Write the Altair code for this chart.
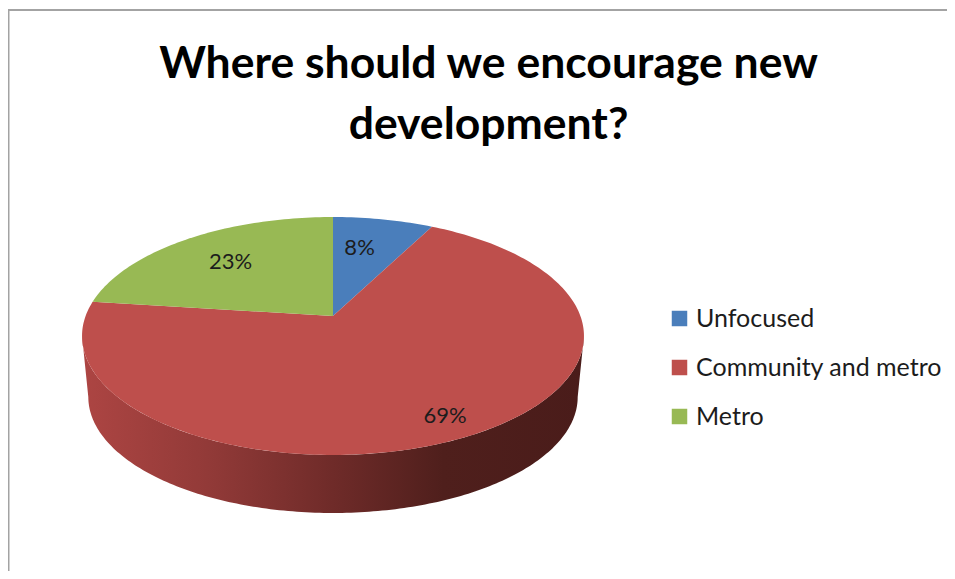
import math
import altair as alt
import pandas as pd

names = ["Unfocused", "Community and metro", "Metro"]
values = [7.6, 69.4, 23.0]
colors = ["#4a7ebb", "#be4f4c", "#98b954"]
label_radius = [0.66, 0.85, 0.68]
label_turn = [0.38, 0.5, 0.5]
title_lines = ["Where should we encourage new", "development?"]

# page pixels -> plot coordinates: the page margin is 8 px
OFF = 8
CX, CY = 333 - OFF, 316 - OFF      # where the pie's centre lands
A, B, K = 247.4, 115.6, 0.168      # tilt of the disc
WALL_DX, WALL_DY = 0.975, 61.5
W, H = 939, 563


def project(angle_deg, r=1.0, scale=1.0, dy=0.0):
    a = math.radians(angle_deg)
    u, v = r * math.sin(a), r * math.cos(a)
    d = 1 + K * v
    return [CX + scale * A * u / d, CY + dy - scale * B * v / d]


def feature(kind, coords, name=""):
    return {"type": "Feature", "properties": {"name": name},
            "geometry": {"type": kind, "coordinates": coords}}


projection = alt.Projection(type="identity", scale=1, translate=[0, 0])

# slices, built from the values
slices = []
labels = []
start = 0.0
for name, val, f, t in zip(names, values, label_radius, label_turn):
    end = start + val * 3.6
    steps = max(2, int(val * 3))
    ring = [[CX, CY]]
    ring += [project(start + (end - start) * i / steps) for i in range(steps + 1)]
    ring.append([CX, CY])
    slices.append(feature("Polygon", [ring], name))
    p = project(start + (end - start) * t, f)
    labels.append({"lon": p[0], "lat": p[1], "share": f"{round(val)}%"})
    start = end

# rim: the near half of the top ellipse joined to the near half of a lower one
widest = math.degrees(math.acos(-K))  # widest point of the ellipse
front = [widest + (360 - 2 * widest) * i / 180 for i in range(181)]
top_edge = [project(a) for a in front]
low_edge = [project(a, 1.0, WALL_DX, WALL_DY) for a in reversed(front)]
rim = [feature("Polygon", [top_edge + low_edge + [top_edge[0]]])]

frame = [feature("LineString", [[0.5, H], [0.5, 2], [W, 2]])]

rim_layer = alt.Chart(alt.Data(values=rim, format=alt.DataFormat(type="json"))).mark_geoshape(
    filled=True,
    fill=alt.Gradient(
        gradient="linear", x1=0, x2=1, y1=0, y2=0,
        stops=[
            alt.GradientStop(offset=0.0, color="#ad4543"),
            alt.GradientStop(offset=0.25, color="#923a38"),
            alt.GradientStop(offset=0.5, color="#6f2b29"),
            alt.GradientStop(offset=0.72, color="#4f1f1c"),
            alt.GradientStop(offset=1.0, color="#4a1c1a"),
        ],
    ),
    strokeWidth=0,
).project(**projection.to_dict())

slice_layer = alt.Chart(alt.Data(values=slices, format=alt.DataFormat(type="json"))).mark_geoshape(
    filled=True, strokeWidth=0
).encode(
    color=alt.Color(
        "properties.name:N",
        sort=names,
        scale=alt.Scale(domain=names, range=colors),
        legend=alt.Legend(
            title=None, orient="none", legendX=659, legendY=298,
            symbolType="square", symbolSize=240, symbolStrokeWidth=0,
            labelFont="Lato", labelFontSize=25, labelColor="#1c1c1c",
            labelOffset=4, rowPadding=23, labelLimit=300,
        ),
    )
).project(**projection.to_dict())

label_layer = alt.Chart(pd.DataFrame(labels)).mark_text(
    font="Lato", fontSize=22, color="#1c1c1c"
).encode(longitude="lon:Q", latitude="lat:Q", text="share:N").project(**projection.to_dict())

frame_layer = alt.Chart(alt.Data(values=frame, format=alt.DataFormat(type="json"))).mark_geoshape(
    filled=False, stroke="#a3a3a3", strokeWidth=2
).project(**projection.to_dict())

chart = alt.layer(rim_layer, slice_layer, label_layer, frame_layer).properties(
    width=W,
    height=H,
    padding=0,
    autosize="none",
    background="white",
    title=alt.TitleParams(
        text=title_lines, anchor="middle", font="Lato", fontSize=44.5, fontWeight="bold",
        color="#000000", lineHeight=61, baseline="alphabetic", dx=11, dy=179,
    ),
).configure_view(stroke=None)

chart.save("out.html", embed_options={"renderer": "svg", "actions": False})
